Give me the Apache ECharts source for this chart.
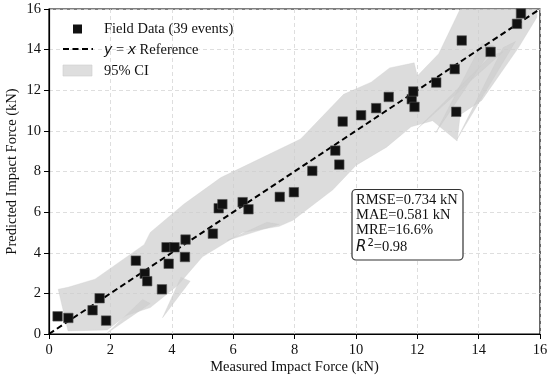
<!DOCTYPE html>
<html>
<head>
<meta charset="utf-8">
<script src="https://cdn.jsdelivr.net/npm/echarts@6/dist/echarts.min.js"></script>
<style>html,body{margin:0;padding:0;background:#fff}#c{width:550px;height:380px}</style>
</head>
<body>
<div id="c"></div>
<script>
// Field data (measured vs predicted impact force, kN)
const measured = [0.28,0.63,1.42,1.65,1.86,2.83,3.12,3.20,3.68,3.83,3.90,4.09,4.43,4.45,5.34,5.53,5.65,6.31,6.50,7.52,7.98,8.58,9.33,9.46,9.57,10.17,10.66,11.07,11.82,11.87,11.91,12.62,13.22,13.27,13.45,14.39,15.25,15.38];
const predicted = [0.87,0.79,1.17,1.76,0.66,3.61,2.97,2.60,2.20,4.27,3.46,4.27,3.79,4.65,4.94,6.19,6.39,6.49,6.14,6.75,6.98,8.03,9.03,8.34,10.46,10.77,11.12,11.67,11.56,11.94,11.18,12.38,13.04,10.94,14.45,13.89,15.27,15.78];
// 95% CI band outline: upper edge left->right
const ciUpperX = [0.30,0.62,1.50,3.10,3.30,4.40,5.60,8.20,9.60,10.50,11.10,11.90,12.00,12.70,13.40,14.70,15.90];
const ciUpperY = [2.20,2.30,2.70,4.40,5.00,6.40,7.70,9.60,11.80,12.40,13.10,13.35,12.70,13.80,16.00,16.00,16.00];
// lower edge left->right
const ciLowerX = [0.62,1.90,2.50,3.30,4.20,5.00,6.30,7.50,7.95,9.25,10.00,11.00,11.80,12.50,13.30,13.40,14.10,15.30,15.90];
const ciLowerY = [0.15,0.20,0.90,1.30,2.40,3.80,5.00,5.30,5.60,7.10,8.30,9.20,10.20,10.50,9.50,10.80,11.50,14.10,15.60];
// thin CI slivers sticking out of the band (triangles)
const sliverX = [[1.90,3.30,3.05],[3.70,4.60,4.30],[13.30,15.20,14.80],[12.00,14.80,14.40],[12.60,14.50,14.10],[5.80,7.50,7.10]];
const sliverY = [[0.05,1.50,1.70],[0.80,2.60,2.80],[9.60,14.40,14.10],[10.10,13.90,13.70],[9.90,14.20,14.30],[4.60,5.40,5.50]];
// reference line and ticks
const refX = [0, 16];
const axisMin = 0, axisMax = 16, axisStep = 2;
const stats = ['RMSE=0.734 kN', 'MAE=0.581 kN', 'MRE=16.6%', '0.98'];

const serif = 'Liberation Serif';
const chart = echarts.init(document.getElementById('c'));
const pts = measured.map((m, i) => [m, predicted[i]]);
const polys = [{ x: ciUpperX.concat(ciLowerX.slice().reverse()), y: ciUpperY.concat(ciLowerY.slice().reverse()) }]
  .concat(sliverX.map((xs, k) => ({ x: xs, y: sliverY[k] })));

const axisCommon = {
  type: 'value', min: axisMin, max: axisMax, interval: axisStep,
  axisLine: { show: true, lineStyle: { color: '#000', width: 1.2 } },
  axisTick: { show: true, inside: false, length: 5, lineStyle: { color: '#000', width: 1 } },
  axisLabel: { color: '#111', fontFamily: serif, fontSize: 14.5 },
  splitLine: { show: true, lineStyle: { color: '#d6d6d6', type: [4, 3], width: 0.8 } },
  nameLocation: 'middle', nameMoveOverlap: false,
  nameTextStyle: { color: '#111', fontFamily: serif, fontSize: 14.5 }
};

chart.setOption({
  animation: false,
  grid: { left: 49, right: 10, top: 9, bottom: 46, show: true, borderColor: '#000', borderWidth: 1.2,
    containLabel: false, outerBoundsMode: 'none' },
  xAxis: Object.assign({}, axisCommon, { name: 'Measured Impact Force (kN)', nameGap: 26,
    axisLabel: Object.assign({}, axisCommon.axisLabel, { margin: 9 }) }),
  yAxis: Object.assign({}, axisCommon, { name: 'Predicted Impact Force (kN)', nameGap: 29,
    axisLabel: Object.assign({}, axisCommon.axisLabel, { margin: 8 }) }),
  series: [
    {
      type: 'custom', name: '95% CI', z: 1, clip: true,
      data: polys.map((p, i) => i),
      renderItem: function (params, api) {
        const p = polys[params.dataIndex];
        const points = p.x.map((x, i) => api.coord([x, p.y[i]]));
        return { type: 'polygon', shape: { points: points },
          style: { fill: 'rgba(205,205,205,0.7)', stroke: 'rgba(200,200,200,0.6)', lineWidth: 0.5 } };
      }
    },
    {
      type: 'line', name: 'y = x Reference', z: 3, symbol: 'none',
      data: refX.map(v => [v, v]),
      lineStyle: { color: '#000', width: 2, type: [6, 3.5] }
    },
    {
      type: 'scatter', name: 'Field Data (39 events)', z: 4,
      symbol: 'rect', symbolSize: 9.5,
      data: pts,
      itemStyle: { color: '#111', borderColor: '#555', borderWidth: 0.6, opacity: 1 }
    }
  ],
  graphic: [
    // legend
    { type: 'rect', shape: { x: 73, y: 24.5, width: 9, height: 9 }, style: { fill: '#111' }, z: 10 },
    { type: 'line', shape: { x1: 63, y1: 49, x2: 93, y2: 49 }, style: { stroke: '#000', lineWidth: 2, lineDash: [6, 3.5] }, z: 10 },
    { type: 'rect', shape: { x: 63, y: 65, width: 29, height: 11 }, style: { fill: '#dedede', stroke: '#cfcfcf', lineWidth: 0.6 }, z: 10 },
    { type: 'text', x: 104, y: 29, z: 10, style: { text: 'Field Data (39 events)', font: '14.5px ' + serif, fill: '#111', verticalAlign: 'middle' } },
    { type: 'text', x: 104, y: 50, z: 10, style: { text: '{i|y} = {i|x} Reference', font: '14.5px ' + serif, fill: '#111', verticalAlign: 'middle',
        rich: { i: { fontFamily: 'DejaVu Sans', fontStyle: 'italic', fontSize: 14, fill: '#111' } } } },
    { type: 'text', x: 104, y: 71, z: 10, style: { text: '95% CI', font: '14.5px ' + serif, fill: '#111', verticalAlign: 'middle' } },
    // stats box
    { type: 'rect', shape: { x: 352, y: 189.5, width: 111, height: 70.5, r: 4 }, style: { fill: '#fff', stroke: '#333', lineWidth: 1.2 }, z: 10 },
    { type: 'text', x: 356, y: 200, z: 11, style: { text: stats[0], font: '14.5px ' + serif, fill: '#111', verticalAlign: 'middle' } },
    { type: 'text', x: 356, y: 215, z: 11, style: { text: stats[1], font: '14.5px ' + serif, fill: '#111', verticalAlign: 'middle' } },
    { type: 'text', x: 356, y: 230, z: 11, style: { text: stats[2], font: '14.5px ' + serif, fill: '#111', verticalAlign: 'middle' } },
    { type: 'text', x: 356, y: 247, z: 11, style: { text: '{r|R}{s|2}{n|=' + stats[3] + '}', verticalAlign: 'middle',
        rich: {
          r: { fontFamily: 'DejaVu Sans', fontStyle: 'italic', fontSize: 15, fill: '#111' },
          s: { fontFamily: 'DejaVu Sans', fontSize: 10, fill: '#111', verticalAlign: 'top', padding: [0, 0, 8, 1] },
          n: { fontFamily: serif, fontSize: 14.5, fill: '#111' }
        } } }
  ]
});
</script>
</body>
</html>
